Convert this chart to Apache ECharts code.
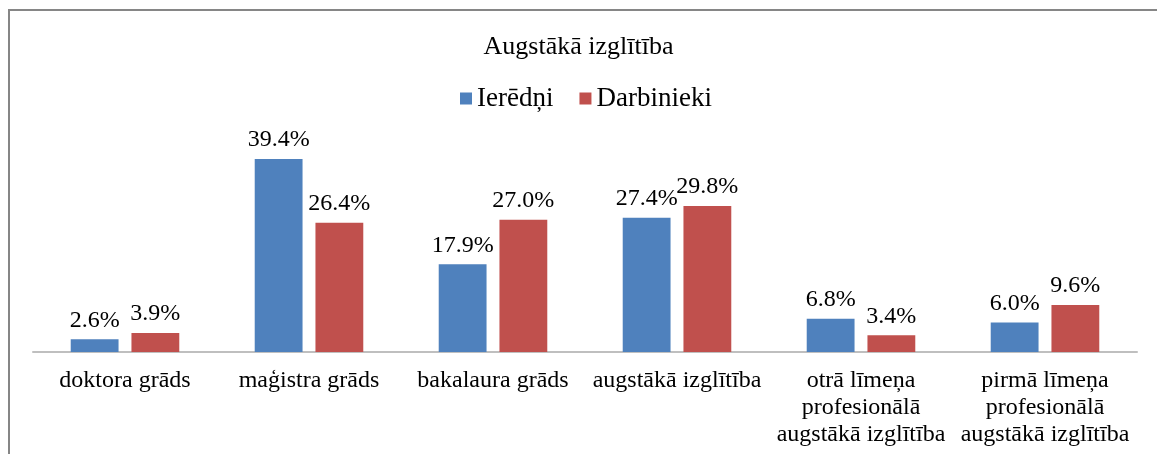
<!DOCTYPE html>
<html><head><meta charset="utf-8">
<script src="https://cdn.jsdelivr.net/npm/echarts@6/dist/echarts.min.js"></script>
<style>html,body{margin:0;padding:0;background:#fff}#c{width:1157px;height:454px;position:relative}
#frame{position:absolute;left:8px;top:9px;width:1160px;height:460px;border-left:2px solid #868686;border-top:2px solid #868686;pointer-events:none}</style>
</head><body><div id="c"></div><div id="frame"></div>
<script>
const categories = ["doktora grāds", "maģistra grāds", "bakalaura grāds", "augstākā izglītība", "otrā līmeņa\nprofesionālā\naugstākā izglītība", "pirmā līmeņa\nprofesionālā\naugstākā izglītība"];
const seriesNames = ["Ierēdņi", "Darbinieki"];
const ieredni = [2.6, 39.4, 17.9, 27.4, 6.8, 6.0];
const darbinieki = [3.9, 26.4, 27.0, 29.8, 3.4, 9.6];
const colors = ["#4f81bd", "#c0504d"];
const font = "'Liberation Serif', 'Times New Roman', serif";
const chart = echarts.init(document.getElementById('c'), null, {renderer: 'canvas'});
const lbl = {show: true, position: 'top', distance: 7, fontFamily: font, fontSize: 24, color: '#000',
  formatter: p => p.value.toFixed(1) + '%'};
chart.setOption({
  animation: false,
  title: {text: 'Augstākā izglītība', left: 'center', top: 29, textStyle: {fontFamily: font, fontSize: 26, fontWeight: 'normal', color: '#000'}},
  legend: {top: 80, left: 455, itemWidth: 12, itemHeight: 12, itemGap: 26, icon: 'rect',
    textStyle: {fontFamily: font, fontSize: 27, color: '#000', padding: [0, 0, 0, 0]}, data: seriesNames},
  grid: {left: 33, right: 20, top: 156, height: 196},
  xAxis: {type: 'category', data: categories,
    axisLine: {lineStyle: {color: '#bfbfbf', width: 2}}, axisTick: {show: false},
    axisLabel: {interval: 0, fontFamily: font, fontSize: 24, color: '#000', lineHeight: 27, margin: 15}},
  yAxis: {type: 'value', min: 0, max: 40, show: false, splitLine: {show: false}},
  series: [
    {name: seriesNames[0], type: 'bar', data: ieredni, itemStyle: {color: colors[0]}, barGap: '27%', barCategoryGap: '41%', label: lbl},
    {name: seriesNames[1], type: 'bar', data: darbinieki, itemStyle: {color: colors[1]}, label: lbl}
  ]
});
</script></body></html>
